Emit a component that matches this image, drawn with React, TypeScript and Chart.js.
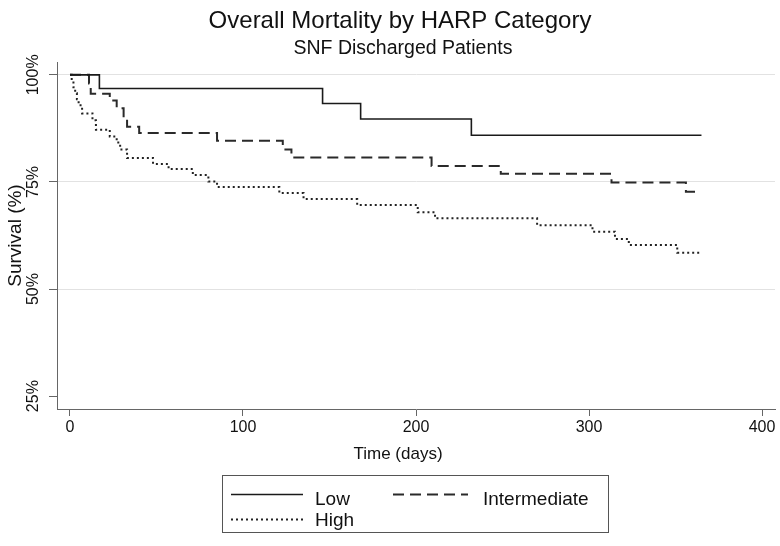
import React, { useEffect, useRef } from 'react';
import { Chart, registerables } from 'chart.js';

Chart.register(...registerables);

const TITLE = 'Overall Mortality by HARP Category';
const SUBTITLE = 'SNF Discharged Patients';
const X_TITLE = 'Time (days)';
const Y_TITLE = 'Survival (%)';
const X_TICKS = [0, 100, 200, 300, 400];
const Y_TICKS = [25, 50, 75, 100];
const SERIES_NAMES = ['Low', 'Intermediate', 'High'];

const lowDays = [0, 17, 146, 168, 232, 365];
const lowSurv = [100, 96.8, 93.3, 89.7, 85.9, 85.9];

const intDays = [0, 11, 12, 23, 27, 31, 33, 40, 85, 123, 128, 209, 249, 313, 356, 362];
const intSurv = [100, 98.0, 95.6, 94.0, 92.2, 89.8, 87.9, 86.4, 84.6, 82.6, 80.7, 78.7, 76.9, 74.9, 72.7, 72.7];

const highDays = [0, 1, 2, 3, 4, 5, 7, 13, 15, 23, 27, 29, 33, 48, 57, 71, 80, 85, 121, 135, 166, 201, 211, 270, 302, 315, 323, 351, 365];
const highSurv = [100, 98.6, 97.1, 95.7, 94.3, 92.9, 91.0, 89.4, 87.2, 85.6, 84.2, 82.6, 80.6, 79.2, 78.0, 76.6, 75.1, 73.8, 72.4, 71.0, 69.6, 67.9, 66.5, 64.9, 63.4, 61.7, 60.3, 58.5, 58.5];

const FONT = '"Liberation Sans", Arial, Helvetica, sans-serif';
const TEXT = '#111111';

const toPoints = (xs: number[], ys: number[]) => xs.map((x, i) => ({ x, y: ys[i] }));

const textPlugin = {
  id: 'stataText',
  afterDraw(chart: any) {
    const ctx = chart.ctx as CanvasRenderingContext2D;
    const ds = chart.data.datasets;
    ctx.save();
    ctx.fillStyle = TEXT;
    ctx.textAlign = 'center';
    ctx.textBaseline = 'alphabetic';
    ctx.font = `24px ${FONT}`;
    ctx.fillText(TITLE, 400, 28);
    ctx.font = `19.5px ${FONT}`;
    ctx.fillText(SUBTITLE, 403, 54);
    ctx.font = `17px ${FONT}`;
    ctx.fillText(X_TITLE, 398, 459);

    // legend box
    ctx.strokeStyle = '#555555';
    ctx.lineWidth = 1;
    ctx.setLineDash([]);
    ctx.strokeRect(222.5, 475.5, 386, 57);
    const sample = (d: any, x1: number, x2: number, y: number) => {
      ctx.save();
      ctx.strokeStyle = d.borderColor;
      ctx.lineWidth = d.borderWidth;
      ctx.setLineDash(d.borderDash || []);
      ctx.beginPath();
      ctx.moveTo(x1, y);
      ctx.lineTo(x2, y);
      ctx.stroke();
      ctx.restore();
    };
    sample(ds[0], 231, 303, 494.5);
    sample(ds[1], 393, 468, 494.5);
    sample(ds[2], 231, 303, 519.5);
    ctx.font = `19px ${FONT}`;
    ctx.textAlign = 'left';
    ctx.fillStyle = TEXT;
    ctx.fillText(SERIES_NAMES[0], 315, 505);
    ctx.fillText(SERIES_NAMES[1], 483, 505);
    ctx.fillText(SERIES_NAMES[2], 315, 526);
    ctx.restore();
  },
};

export default function App() {
  const ref = useRef<HTMLCanvasElement | null>(null);
  useEffect(() => {
    if (!ref.current) return;
    Chart.defaults.font.family = FONT;
    const chart = new Chart(ref.current, {
      type: 'line',
      data: {
        datasets: [
          {
            label: SERIES_NAMES[0],
            data: toPoints(lowDays, lowSurv),
            borderColor: '#1a1a1a',
            borderWidth: 1.6,
            stepped: true,
            pointRadius: 0,
            fill: false,
          },
          {
            label: SERIES_NAMES[1],
            data: toPoints(intDays, intSurv),
            borderColor: '#2a2a2a',
            borderWidth: 2,
            borderDash: [11, 6],
            stepped: true,
            pointRadius: 0,
            fill: false,
          },
          {
            label: SERIES_NAMES[2],
            data: toPoints(highDays, highSurv),
            borderColor: '#222222',
            borderWidth: 2,
            borderDash: [2, 3],
            stepped: true,
            pointRadius: 0,
            fill: false,
          },
        ],
      },
      options: {
        animation: false,
        responsive: false,
        maintainAspectRatio: false,
        layout: { padding: { top: 62, right: 5, bottom: 77, left: 0 } },
        plugins: {
          legend: { display: false },
          title: { display: false },
          tooltip: { enabled: false },
        },
        scales: {
          x: {
            type: 'linear',
            min: -7.5,
            max: 407.5,
            afterBuildTicks: (s: any) => {
              s.ticks = X_TICKS.map((v) => ({ value: v }));
            },
            afterFit: (s: any) => {
              s.height = 60;
            },
            grid: { drawOnChartArea: false, drawTicks: true, tickLength: 7, tickColor: '#666666' },
            border: { display: true, color: '#666666', width: 1 },
            ticks: {
              font: { size: 16 },
              color: TEXT,
              padding: 2,
              maxRotation: 0,
              autoSkip: false,
              callback: (v: any) => String(v),
            },
          },
          y: {
            type: 'linear',
            min: 22,
            max: 103,
            afterBuildTicks: (s: any) => {
              s.ticks = Y_TICKS.map((v) => ({ value: v }));
            },
            afterFit: (s: any) => {
              s.width = 57;
            },
            grid: {
              color: (c: any) => (c.tick && c.tick.value === 25 ? 'rgba(0,0,0,0)' : '#e2e2e2'),
              lineWidth: 1,
              drawTicks: true,
              tickLength: 8,
              tickColor: '#666666',
            },
            border: { display: true, color: '#666666', width: 1 },
            ticks: {
              font: { size: 16 },
              color: TEXT,
              minRotation: 90,
              maxRotation: 90,
              crossAlign: 'center',
              padding: -5,
              autoSkip: false,
              callback: (v: any) => `${v}%`,
            },
            title: {
              display: true,
              text: Y_TITLE,
              font: { size: 19 },
              color: TEXT,
              padding: { top: 4, bottom: 0 },
            },
          },
        },
      },
      plugins: [textPlugin],
    } as any);
    return () => chart.destroy();
  }, []);
  return (
    <div style={{ position: 'absolute', left: 0, top: 0, width: 780, height: 546, background: '#ffffff' }}>
      <canvas ref={ref} width={780} height={546} style={{ width: 780, height: 546, display: 'block' }} />
    </div>
  );
}
